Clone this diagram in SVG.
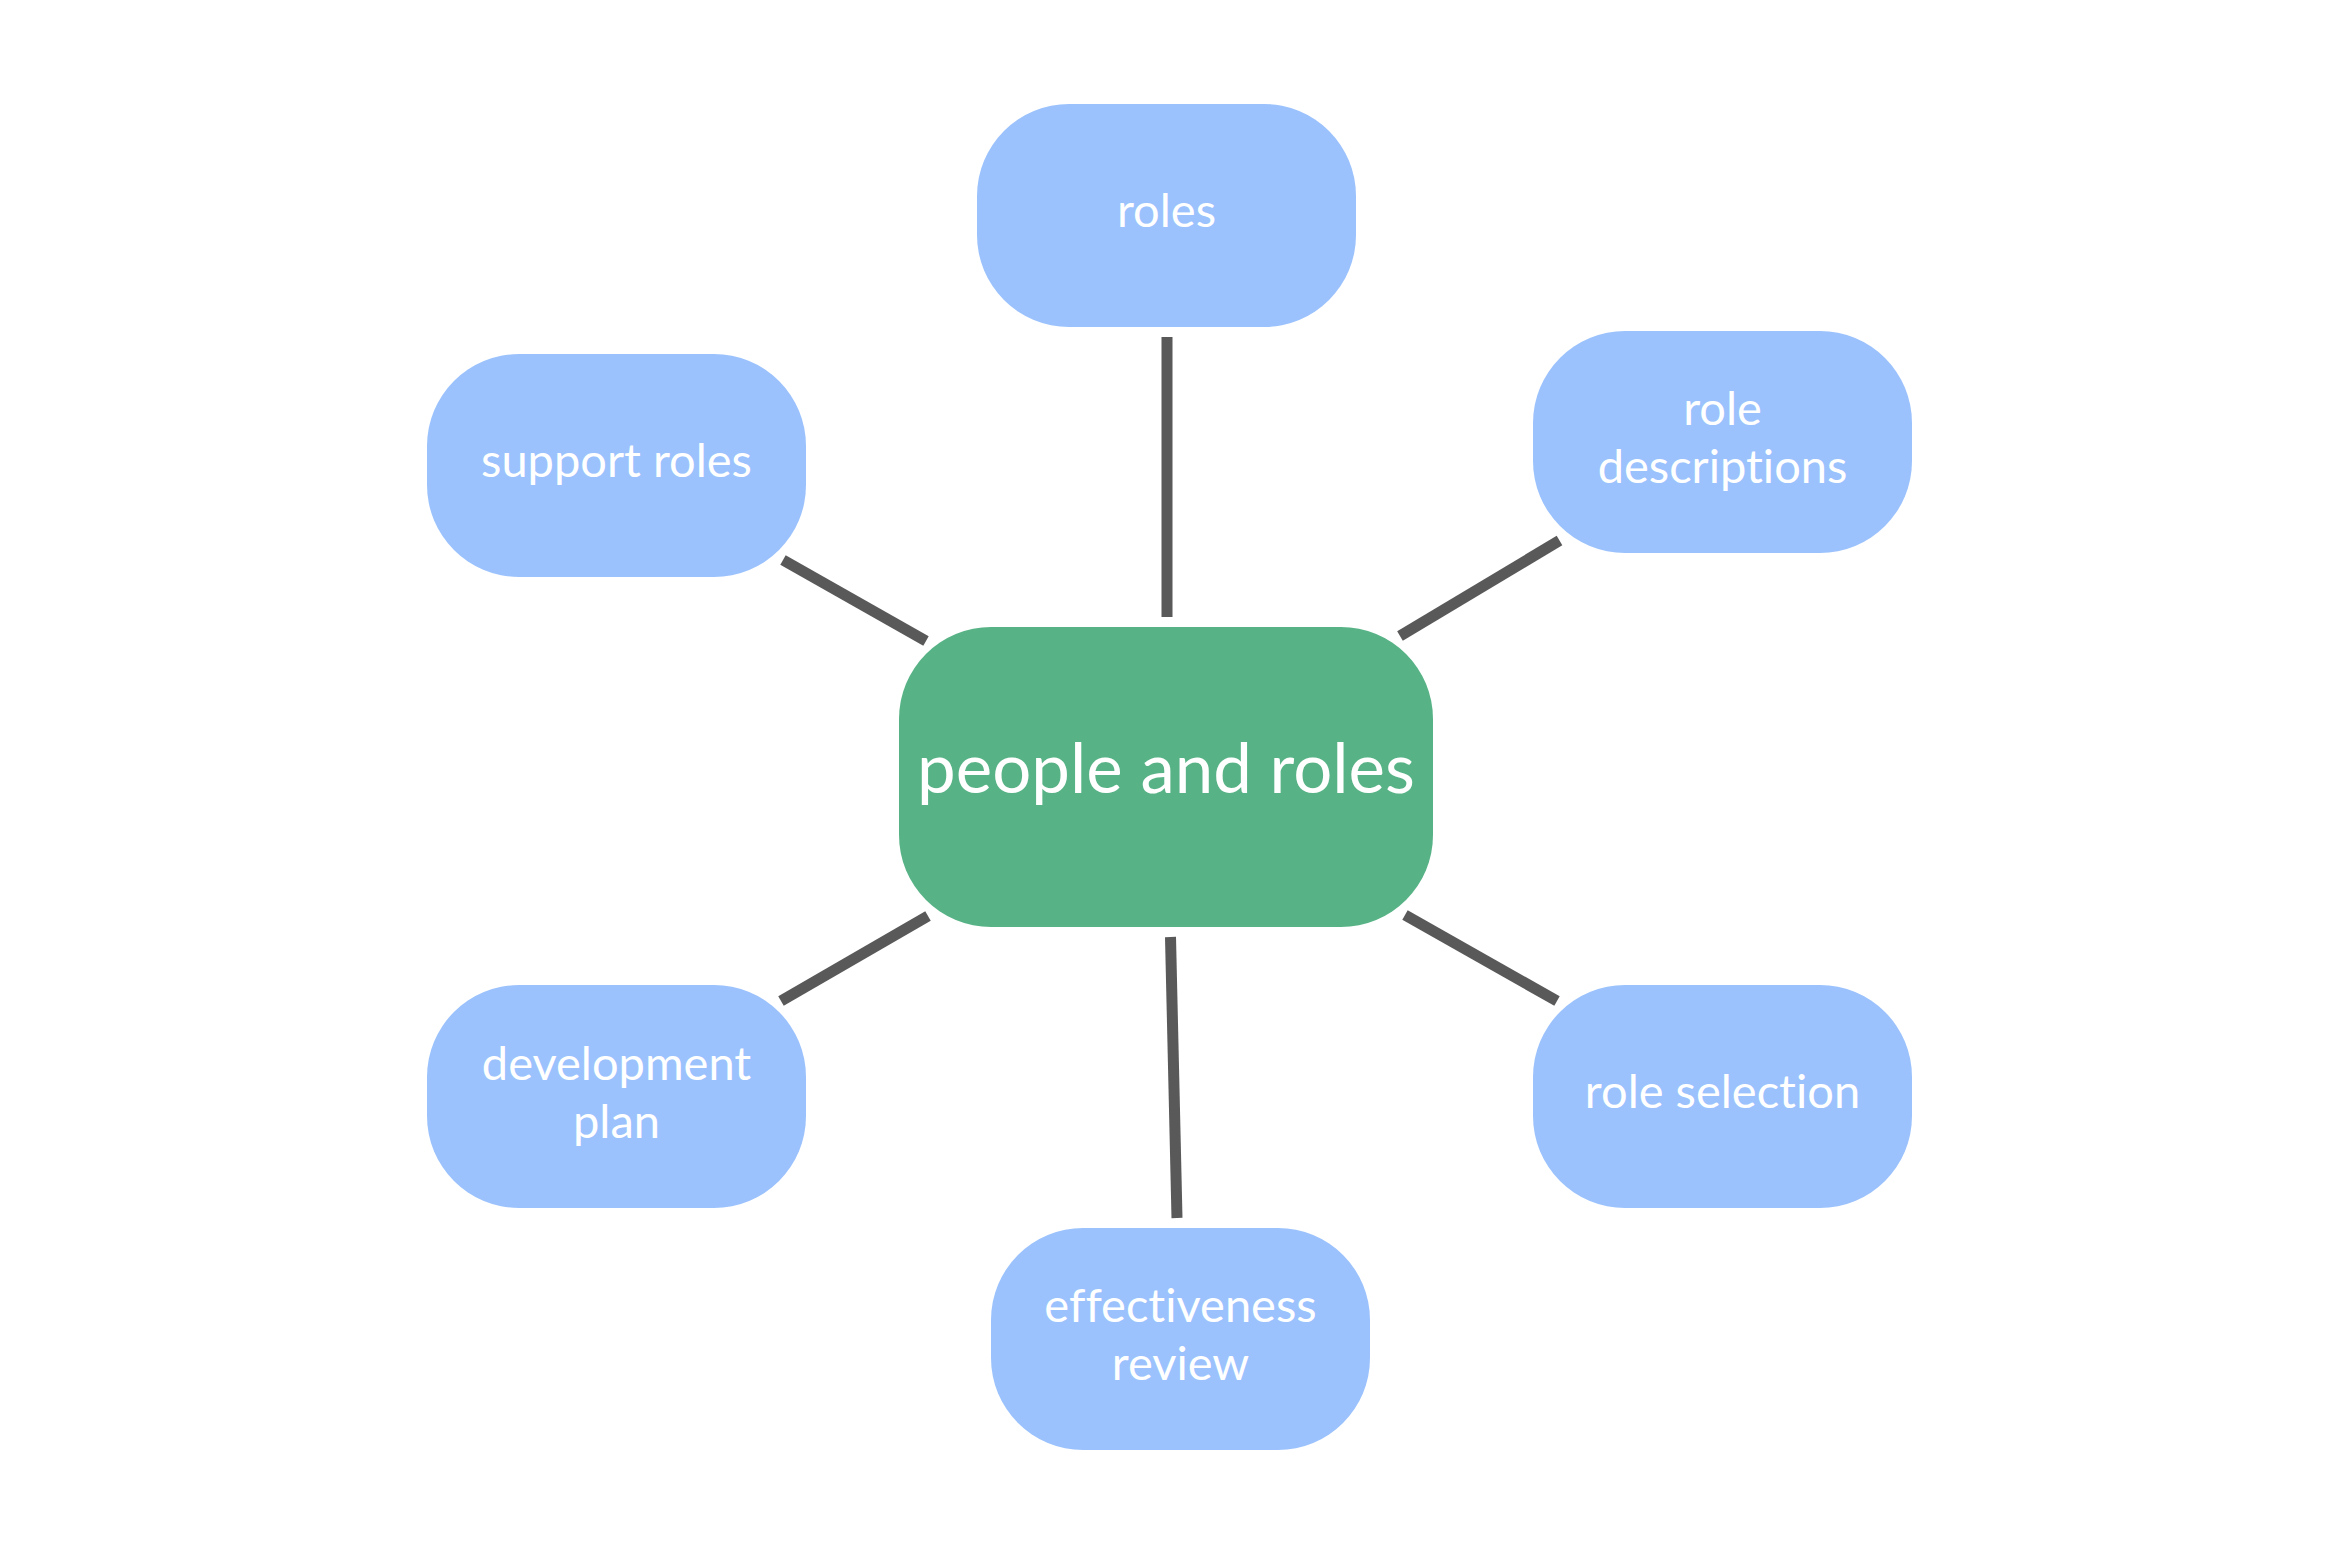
<svg xmlns="http://www.w3.org/2000/svg" width="2333" height="1555" viewBox="0 0 2333 1555">
<style>
.bg{fill:#ffffff}
.leaf rect{fill:#9bc2fd}
.hub rect{fill:#57b386}
text{font-family:"Lato","Liberation Sans",sans-serif;font-weight:400;font-variant-ligatures:none;fill:#ffffff;text-anchor:middle}
.leaf text{font-size:47px}
.hub text{font-size:69px}
#connectors line{stroke:#595959;stroke-width:11;stroke-linecap:butt}
</style>
<rect class="bg" x="0" y="0" width="2333" height="1555"/>
<g id="connectors">
<line x1="1167" y1="337" x2="1167" y2="617"/>
<line x1="783" y1="560" x2="926" y2="641"/>
<line x1="1400" y1="636" x2="1559.5" y2="540.5"/>
<line x1="928" y1="916" x2="781" y2="1001"/>
<line x1="1405" y1="915" x2="1557" y2="1001"/>
<line x1="1170.5" y1="937" x2="1177" y2="1218"/>
</g>
<g id="people-and-roles" class="hub">
<rect x="899" y="627" width="534" height="300" rx="92" ry="92"/>
<text x="1166" y="793">people and roles</text>
</g>
<g id="roles" class="leaf">
<rect x="977" y="104" width="379" height="223" rx="92" ry="92"/>
<text x="1166.5" y="227">roles</text>
</g>
<g id="support-roles" class="leaf">
<rect x="427" y="354" width="379" height="223" rx="92" ry="92"/>
<text x="616.5" y="477">support roles</text>
</g>
<g id="role-descriptions" class="leaf">
<rect x="1533" y="331" width="379" height="222" rx="92" ry="92"/>
<text x="1722.5" y="425">role</text>
<text x="1722.5" y="483">descriptions</text>
</g>
<g id="development-plan" class="leaf">
<rect x="427" y="985" width="379" height="223" rx="92" ry="92"/>
<text x="616.5" y="1079.5">development</text>
<text x="616.5" y="1137.5">plan</text>
</g>
<g id="role-selection" class="leaf">
<rect x="1533" y="985" width="379" height="223" rx="92" ry="92"/>
<text x="1722.5" y="1108">role selection</text>
</g>
<g id="effectiveness-review" class="leaf">
<rect x="991" y="1228" width="379" height="222" rx="92" ry="92"/>
<text x="1180.5" y="1322">effectiveness</text>
<text x="1180.5" y="1380">review</text>
</g>
</svg>
